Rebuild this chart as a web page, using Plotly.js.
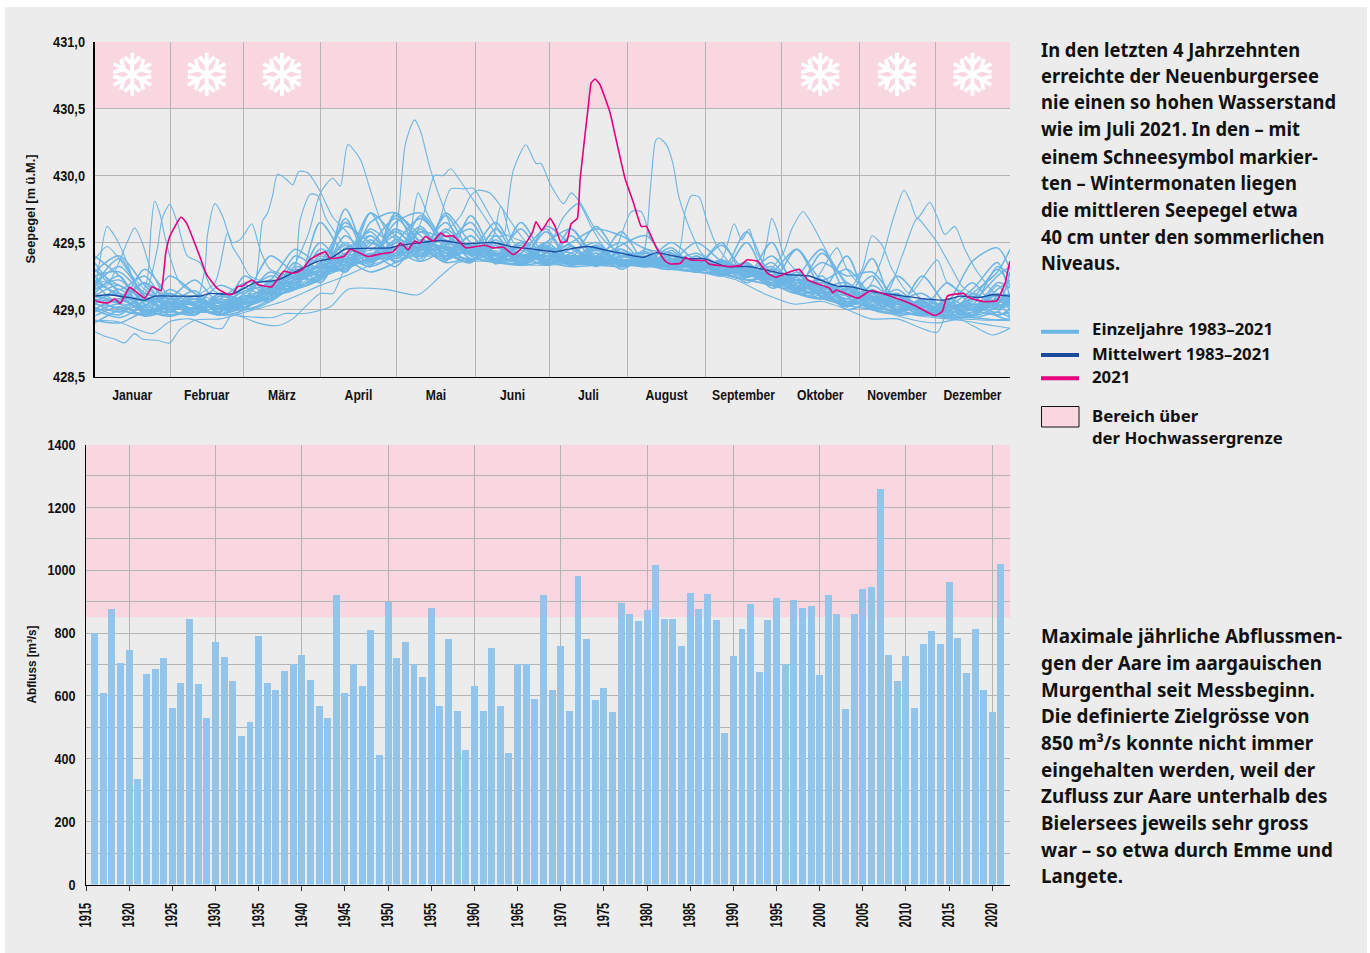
<!DOCTYPE html>
<html><head><meta charset="utf-8">
<script src="https://cdn.plot.ly/plotly-3.0.1.min.js"></script>
<style>html,body{margin:0;padding:0;background:#fff}#chart{width:1370px;height:953px}</style>
</head><body><div id="chart"></div>
<script>
// ---- Lake level chart. All levels in cm above 428 m a.s.l. ----
const monthNames = ['Januar','Februar','März','April','Mai','Juni','Juli','August','September','Oktober','November','Dezember'];
const monthEdges = [0,30.1,59.4,90.1,120.4,151.9,181.4,212.5,243.6,273.9,304.8,335.1,365];
const snowMonths = [0,1,2,9,10,11];

const meanDays = [0,6,15,20,24,32,42,46,55,64,73,82,89,94,100,118,122,138,148,159,166,175,184,190,197,207,219,224,236,243,252,261,269,276,285,296,301,311,319,331,339,345,353,358,365];
const meanCm = [110,111,108.5,107,110,110,110,112,111.5,120,122,130,136,138,145,146,148,151.5,149,150,147,145,143,145.5,147,143,139,142.5,138,138,132,132,129,126,125,117.5,117,113,111,108,107,110,109,111,110];

const y2021Days = [0,2,5.7,8,10.2,14,20,23,26.5,28.4,30,34.5,36.7,42,44.7,48.8,53.4,55.4,57,58.8,62.7,65.4,70.7,75.4,79.4,82.7,86,92,94,99.4,102,109,114,119,122,125,127.6,129.6,131.9,135,138,140,143,148,155.6,159,163,167,171,174.6,176,178.3,181.6,183.6,186,188.3,190,192.5,193.6,197,198,199.6,201.6,205.6,208,211.5,215,218,220,224,227.6,229.6,233.6,235.6,237.6,243.6,245,253.7,257.7,260,264.4,268.4,271.7,277,281,284.4,293,294.4,295.7,304.4,308.4,310.4,321.7,327,335,338,340,346.4,348.4,354.4,359.7,363,364.6,365];
const y2021Cm = [107,105.5,105,108,104.5,116.5,108.5,117,114,142,154.5,169,164.5,139.5,126,116,111,112,117,117.5,122,118.5,117,128.5,127,129.5,137.5,143,138,139.5,145,139.5,141.5,143,149.5,144.5,151,149.5,154.5,151,157,154.5,155,146,148,146,146.5,141,147,157.5,165.5,159,168,162,150,151,164,168,197,254,269,272,267.5,246.5,226.5,198,179,162,162,146,136,134,134.5,139,137,136.5,134,132,133,137,136,127,124,128,130,122,116,112.5,114.5,108.5,113,114,107,103,95.5,98.5,110,112,109,106,106.5,119.5,133,136];

// Years with distinct high-water episodes (day of year, level)
const flood01Days = [0,2,5,8,11.5,15,20,30,45,60,75,90,105,118,120.5,124,127.6,130,134,140,144,150,165,180,195,210,225,240,255,270,285,300,315,330,345,360,365];
const flood01Cm = [112,135,162,155,142,125,110,106,102,107,116,130,140,145,160,224,241.5,233,204,172,155,146,143,138,137,136,135,133,130,124,118,112,107,103,102,103,105];
const flood02Days = [0,5,9,13,16,19,22,25,28,35,45,60,75,85,90,95,98,101,106,109.5,114,118,125,135,150,165,180,195,210,225,240,255,270,285,300,315,330,345,360,365];
const flood02Cm = [115,118,132,150,161,150,132,120,110,106,104,110,120,155,187,198,192,223,212,192,167,155,150,147,144,141,139,140,137,134,132,128,122,116,110,105,102,100,102,104];
const flood03Days = [0,10,18,21,22.5,24,26,28,30,34,40,50,60,75,90,105,120,135,150,158,163,165,167,172,176,178,181.6,187,190,193.6,199,204,210,225,240,255,270,285,300,315,330,345,360,365];
const flood03Cm = [105,108,110,122,160,181,172,155,140,120,112,107,110,120,133,142,147,147,147,155,155,180,204,223,209,209,194,179,187,180,162,150,142,138,135,130,126,120,114,108,105,103,105,107];
const flood04Days = [0,10,20,25,27,30,33,37,42,47,55,65,75,90,105,120,135,150,165,180,195,210,218,221.7,223.7,225,228,230.6,233,237.6,242,250,262,270,285,300,315,330,345,360,365];
const flood04Cm = [110,106,112,145,168,178.5,165,140,135,115,108,110,118,132,140,144,148,143,140,138,139,137,138,192,226,228,223,209,184,159,142,133,130,125,120,113,106,102,100,102,103];
const flood05Days = [0,10,20,30,40,44,45,48,51,55,58,62,70,80,90,105,120,135,150,165,180,195,210,225,240,255,268,274.6,278,282.5,286,290,295,300,315,330,345,360,365];
const flood05Cm = [120,112,106,105,105,130,155,179,170,147,138,125,120,122,130,138,142,144,143,141,140,140,139,137,135,131,128,142,160,173,164,150,133,120,110,105,103,106,108];
const flood06Days = [0,15,30,45,58,64,67,69,71,73,76,79,81.5,85,90,95,101,106,120,135,150,165,180,195,210,225,240,255,270,285,300,308,314,318,322.7,325,328,333,336,339,343,347,352,360,365];
const flood06Cm = [108,103,100,102,105,120,166,172,185,201,198,193,203,202,188,169,157,142,140,142,142,140,137,136,136,134,132,128,122,116,112,115,138,165,189,182,168,180,169,156,162,145,128,110,105];
const flood07Days = [0,15,30,45,60,70,79,82,86,89,92,95,100,110,120,135,150,165,180,195,210,225,240,250,255,258,261,264,270,285,300,315,322,328,332,336,342,346,352,360,365];
const flood07Cm = [110,105,102,100,105,112,122,167,186,185,169,160,148,140,142,145,141,140,138,138,136,136,134,138,164,152,160,142,128,120,112,110,140,168,160,150,130,117,110,106,105];
const flood08Days = [0,10,20,35,50,65,80,95,110,125,131,135.6,139,142,146,152,158,165,180,195,210,225,240,255,265,268,270,272,275,285,300,315,330,345,360,365];
const flood08Cm = [122,118,108,102,100,108,118,130,138,145,170,200,200,205,195.5,179,162,145,138,138,137,135,133,128,130,150,168,160,140,120,112,106,102,103,105,110];
const flood09Days = [0,15,30,45,60,75,90,105,120,135,142,147,151,155,162,172,180,187,193,198,204,215,225,240,255,270,285,296,300,310,325,340,355,365];
const flood09Cm = [104,100,98,98,102,112,125,135,140,155,190,190,190.5,179,158,150,145,169,179,162,145,138,137,133,128,123,117,146,130,110,103,100,100,102];
const flood10Days = [0,8,16,30,45,60,75,90,105,120,135,146,150,153,157.6,162,168,175,190,205,220,232,235.6,238,241,244,248,255,270,285,300,315,330,345,360,365];
const flood10Cm = [130,120,112,105,104,108,116,128,136,140,150,170,185,189,187,177,160,145,140,138,136,138,174,185,184,167,148,132,125,118,112,107,103,102,108,112];
const flood11Days = [0,4,8,12,16,19,25,30,34,40,50,60,75,90,100,110,120,135,150,165,180,195,210,225,240,255,270,285,300,315,330,345,358,365];
const flood11Cm = [83.5,80,78,75,82,78,77,75,85,92,93,98,106,118,125,133,138,140,138,136,135,134,135,133,130,125,118,112,105,100,95,92,88,86];
const flood12Days = [0,9,23,30,38,48,51,55,59.4,71,76,84,94,101,116,129,138,145,155,165,180,195,210,225,240,250,256,268,279,290,300,309.5,320,336,340,350,358,365];
const flood12Cm = [92,91,82,91,93,86,86,97,95,94,97,97,102,115,115,111,125,135,136,134,133,135,134,133,131,125,122,111,104,106,100,93,93,83,97,88,81,86];
const flood13Days = [0,15,30,45,58,65,73,79,90,95,100,110,120,125,129,133,138,145,158,162,167,175,190,205,214,218,222,228,240,255,270,285,300,312,327,336,345,355,365];
const flood13Cm = [100,98,96,98,95,90,88,93,112,112,130,138,138,150,187,170,155,142,150,177,150,142,138,136,173,173,152,140,133,127,122,115,108,100,92,90,93,92,93];
const flood14Days = [0,5,9,15,22,30,40,48,53,55,58,60,62.7,66,70,80,90,105,120,135,150,165,180,195,210,225,240,255,270,285,300,306,310,314,318,325,336,340,350,360,365];
const flood14Cm = [137,147,140,125,112,108,110,120,157,150,152,157,164,145,130,125,132,145,145,147,145,142,140,138,137,137,134,130,125,120,114,130,155,148,130,112,137,120,110,110,112];

// Years that stay in the main band, read every ten days
const bandDays = [0,10,20,30,40,50,60,70,80,90,100,110,120,130,140,150,160,170,180,190,200,210,220,230,240,250,260,270,280,290,300,310,320,330,340,350,360,365];
const band01 = [125,128,110,100,106,101,112,125,120,135,162,150,145,158,142,148,138,146,136,147,135,143,134,140,130,135,126,128,115,120,105,112,100,106,96,104,98,112];
const band02 = [118,132,112,108,98,110,104,112,130,125,132,148,168,150,145,137,150,135,145,134,146,135,143,132,137,129,133,122,124,110,118,102,110,97,104,96,112,105];
const band03 = [100,108,98,112,102,96,110,108,118,140,128,165,172,142,155,140,136,148,134,160,138,132,142,130,140,127,130,125,114,122,106,114,99,105,95,108,96,100];
const band04 = [112,105,120,98,110,100,106,120,125,122,168,135,150,168,148,136,148,133,147,133,144,136,132,142,128,136,124,130,112,108,116,100,108,96,106,95,110,118];
const band05 = [95,102,96,104,96,108,100,106,128,132,130,152,135,148,140,155,134,150,138,135,148,133,145,131,138,126,135,120,126,112,104,115,102,100,94,102,95,92];
const band06 = [130,115,125,102,108,98,118,112,115,145,135,138,160,140,170,145,165,136,148,133,140,145,133,144,129,137,128,118,122,118,108,138,98,108,100,106,125,132];
const band07 = [105,98,106,108,100,112,102,115,122,128,150,133,170,155,138,150,137,144,134,142,150,134,138,136,132,150,122,125,116,112,118,104,110,100,96,98,104,95];
const band08 = [122,110,100,115,104,96,108,128,118,124,140,158,138,150,146,136,152,133,162,148,132,145,134,130,140,128,158,122,112,125,103,110,104,96,102,120,100,108];
const band09 = [90,100,108,96,102,106,100,108,135,120,146,135,152,138,172,150,142,135,146,133,147,132,140,133,128,134,126,140,118,108,112,106,98,107,94,96,106,112];
const band10 = [140,125,106,112,98,103,114,118,122,138,128,172,140,160,140,155,135,165,140,150,160,155,145,142,135,130,134,119,125,145,110,102,112,98,105,136,146,130];
const band11 = [110,118,102,125,112,100,104,110,126,130,165,145,158,145,155,138,146,138,150,136,134,142,133,138,130,137,125,132,115,113,140,100,106,103,98,100,115,122];
const band12 = [98,104,95,100,108,97,102,114,116,126,138,132,142,162,138,144,135,140,133,145,133,137,132,132,134,126,128,118,120,110,104,108,100,96,104,94,98,94];
const band13 = [128,140,118,104,100,108,120,122,145,134,148,140,165,172,150,146,140,160,136,138,162,138,135,140,133,132,124,150,112,116,120,106,115,100,98,112,128,145];
const band14 = [102,96,112,100,96,112,106,108,118,150,132,155,136,144,158,137,142,134,148,134,136,148,155,132,128,128,135,118,130,109,116,100,97,108,100,95,102,108];
const band15 = [115,122,104,98,108,102,100,120,124,122,175,136,147,140,148,165,137,146,135,155,134,135,136,150,136,134,126,126,118,122,102,112,110,99,106,100,120,116];
const band16 = [108,100,96,105,100,98,110,106,120,128,130,142,132,152,142,135,155,133,142,133,142,130,140,131,129,125,132,122,113,108,106,103,98,102,96,98,108,100];
const band17 = [135,112,98,108,122,104,105,116,115,165,140,135,160,148,136,170,140,137,150,160,136,134,132,136,150,136,129,128,145,114,102,118,105,100,120,104,132,125];
const band18 = [120,105,130,110,104,118,112,140,128,132,134,160,145,136,160,142,138,150,133,140,135,158,134,140,134,127,122,124,113,120,112,100,125,107,99,108,100,110];
const band19 = [104,115,100,96,100,96,104,110,132,126,142,132,172,150,137,146,135,142,160,135,145,132,137,134,131,133,120,130,122,110,115,108,96,98,102,96,118,104];
const band20 = [118,138,108,100,106,100,116,108,124,142,128,150,140,170,145,135,160,134,142,148,133,140,142,133,136,126,150,118,128,112,108,125,100,104,94,112,104,128];
const band21 = [100,94,103,112,98,105,100,122,116,124,155,138,150,142,150,160,136,148,135,137,148,133,136,146,130,137,124,135,116,142,118,100,104,96,108,100,96,98];
const band22 = [112,125,96,104,114,98,125,112,140,130,136,172,155,146,165,140,148,136,158,134,140,150,133,135,142,130,130,120,145,122,130,110,100,125,104,115,135,108];
const band23 = [92,90,98,95,100,103,102,110,115,122,136,128,135,145,135,138,135,133,135,132,133,132,134,130,128,126,122,118,112,108,103,100,97,96,94,94,92,92];
const band24 = [125,110,120,106,96,110,108,114,120,135,145,155,140,158,152,142,150,140,146,142,134,140,138,134,132,148,127,126,120,135,125,128,108,112,100,108,130,118];
const band25 = [106,112,100,102,110,96,100,118,128,128,130,140,155,136,145,148,137,134,140,133,142,137,132,137,135,127,132,116,122,115,100,106,112,100,94,98,112,102];

// ---- Discharge chart ----
const dischargeYears = [1916,1917,1918,1919,1920,1921,1922,1923,1924,1925,1926,1927,1928,1929,1930,1931,1932,1933,1934,1935,1936,1937,1938,1939,1940,1941,1942,1943,1944,1945,1946,1947,1948,1949,1950,1951,1952,1953,1954,1955,1956,1957,1958,1959,1960,1961,1962,1963,1964,1965,1966,1967,1968,1969,1970,1971,1972,1973,1974,1975,1976,1977,1978,1979,1980,1981,1982,1983,1984,1985,1986,1987,1988,1989,1990,1991,1992,1993,1994,1995,1996,1997,1998,1999,2000,2001,2002,2003,2004,2005,2006,2007,2008,2009,2010,2011,2012,2013,2014,2015,2016,2017,2018,2019,2020,2021];
const dischargeValues = [800,609,877,705,746,335,670,686,721,562,641,845,638,530,772,724,648,472,517,791,641,619,679,702,730,651,568,530,921,609,702,632,810,412,899,721,772,702,660,880,568,781,552,428,632,552,753,568,418,702,702,590,921,619,759,552,982,781,587,625,549,896,861,839,874,1017,845,845,759,928,877,925,842,482,727,813,893,676,842,912,702,906,880,886,667,921,861,558,861,941,947,1260,730,648,727,562,765,807,765,963,784,673,813,619,549,1020];
const floodLimitDischarge = 850;
const floodLimitLevel = 430.5;

// ---- Texts ----
const textTop = ['In den letzten 4 Jahrzehnten','erreichte der Neuenburgersee','nie einen so hohen Wasserstand','wie im Juli 2021. In den – mit','einem Schneesymbol markier-','ten – Wintermonaten liegen','die mittleren Seepegel etwa','40 cm unter den sommerlichen','Niveaus.'];
const textBottom = ['Maximale jährliche Abflussmen-','gen der Aare im aargauischen','Murgenthal seit Messbeginn.','Die definierte Zielgrösse von','850 m³/s konnte nicht immer','eingehalten werden, weil der','Zufluss zur Aare unterhalb des','Bielersees jeweils sehr gross','war – so etwa durch Emme und','Langete.'];
const legendLabels = ['Einzeljahre 1983–2021','Mittelwert 1983–2021','2021','Bereich über','der Hochwassergrenze'];

// ---- Styling ----
const W = 1370, H = 953;
const PX = x => x / W, PY = y => 1 - y / H;
const COL = {card:'#ececec', grid:'#b4b4b4', pink:'#f9d7e1', light:'#6cb5e4', dark:'#1b4a9e', mag:'#e6007e', bar:'#93c5eb', ink:'#111111'};
const bodyFont = '"Noto Sans", Lato, sans-serif';
const tickFont = '"Liberation Sans", sans-serif';
const toLevel = a => a.map(v => 428 + v / 100);

const floodSeries = [[flood01Days,flood01Cm],[flood02Days,flood02Cm],[flood03Days,flood03Cm],[flood04Days,flood04Cm],[flood05Days,flood05Cm],
  [flood06Days,flood06Cm],[flood07Days,flood07Cm],[flood08Days,flood08Cm],[flood09Days,flood09Cm],[flood10Days,flood10Cm],
  [flood11Days,flood11Cm],[flood12Days,flood12Cm],[flood13Days,flood13Cm],[flood14Days,flood14Cm]];
const bandSeries = [band01,band02,band03,band04,band05,band06,band07,band08,band09,band10,band11,band12,band13,band14,band15,band16,band17,band18,band19,band20,band21,band22,band23,band24,band25];

const traces = [
  ...floodSeries.map(s => ({type:'scatter', mode:'lines', x:s[0], y:toLevel(s[1]), xaxis:'x', yaxis:'y', showlegend:false, hoverinfo:'skip',
    line:{color:COL.light, width:1.1, shape:'spline', smoothing:0.7}})),
  ...bandSeries.map(b => ({type:'scatter', mode:'lines', x:bandDays, y:toLevel(b), xaxis:'x', yaxis:'y', showlegend:false, hoverinfo:'skip',
    line:{color:COL.light, width:1.5, shape:'spline', smoothing:0.8}}))
];
traces.push({type:'scatter', mode:'lines', name:'Mittelwert 1983–2021', x:meanDays, y:toLevel(meanCm), xaxis:'x', yaxis:'y', showlegend:false,
  line:{color:COL.dark, width:1.3, shape:'spline', smoothing:0.4}});
traces.push({type:'scatter', mode:'lines', name:'2021', x:y2021Days, y:toLevel(y2021Cm), xaxis:'x', yaxis:'y', showlegend:false,
  line:{color:COL.mag, width:1.6, shape:'spline', smoothing:0.4}});
traces.push({type:'bar', x:dischargeYears, y:dischargeValues, xaxis:'x2', yaxis:'y2', width:0.81, showlegend:false,
  marker:{color:COL.bar, line:{width:0}}});

const monthMids = monthNames.map((_, i) => (monthEdges[i] + monthEdges[i + 1]) / 2);

// snowflake icon
const armSvg = '<g><line x1="0" y1="0" x2="0" y2="-21"/><line x1="0" y1="-9.5" x2="-7.5" y2="-17"/><line x1="0" y1="-9.5" x2="7.5" y2="-17"/></g>';
const flakeArms = [0,60,120,180,240,300].map(a => armSvg.replace('<g>', `<g transform="rotate(${a})">`)).join('');
const flakeSvg = `<svg xmlns="http://www.w3.org/2000/svg" width="176" height="176" viewBox="-22 -22 44 44"><g stroke="#ffffff" stroke-width="3.8" fill="none">${flakeArms}</g></svg>`;
const flakeUri = 'data:image/svg+xml;base64,' + btoa(flakeSvg);

const images = snowMonths.map(m => ({source:flakeUri, xref:'x', yref:'y', x:monthMids[m], y:430.755,
  sizex:45/2.508, sizey:45/134, xanchor:'center', yanchor:'middle', sizing:'stretch', layer:'above'}));

const shapes = [
  {type:'rect', xref:'paper', yref:'paper', x0:PX(5), x1:PX(1367), y0:PY(953), y1:PY(7), fillcolor:COL.card, line:{width:0}, layer:'below'},
  {type:'rect', xref:'x', yref:'y', x0:0, x1:365, y0:floodLimitLevel, y1:431, fillcolor:COL.pink, line:{width:0}, layer:'below'},
  {type:'rect', xref:'x2', yref:'y2', x0:1915, x1:2022.05, y0:floodLimitDischarge, y1:1400, fillcolor:COL.pink, line:{width:0}, layer:'below'},
  {type:'line', xref:'paper', yref:'paper', x0:PX(1041), x1:PX(1079), y0:PY(331.7), y1:PY(331.7), line:{color:COL.light, width:4}},
  {type:'line', xref:'paper', yref:'paper', x0:PX(1041), x1:PX(1079), y0:PY(355), y1:PY(355), line:{color:COL.dark, width:4}},
  {type:'line', xref:'paper', yref:'paper', x0:PX(1041), x1:PX(1079), y0:PY(378.3), y1:PY(378.3), line:{color:COL.mag, width:4}},
  {type:'rect', xref:'paper', yref:'paper', x0:PX(1041.5), x1:PX(1079), y0:PY(427), y1:PY(406.5), fillcolor:COL.pink, line:{color:'#111111', width:1}}
];

const textLine = (t, x, y, size) => ({text:t, xref:'paper', yref:'paper', x:PX(x), y:PY(y), xanchor:'left', yanchor:'middle', showarrow:false, align:'left',
  font:{family:bodyFont, size:size, color:COL.ink, weight:700}});
const topY = [49,75.5,102,129,156,182,209,236,262];
const botY = [635,662,689,715,742,769,795,822,849,875];
const legY = [329,353,376,415,438];
const annotations = [
  ...textTop.map((t,i) => textLine(t, 1039, topY[i], 19.5)),
  ...textBottom.map((t,i) => textLine(t, 1039, botY[i], 19.5)),
  ...legendLabels.map((t,i) => textLine(t, 1090, legY[i], 16.5))
];

const tickF = {family:tickFont, size:15, color:COL.ink, weight:700};
const decades = []; for (let y = 1920; y <= 2020; y += 10) decades.push(y);

const layout = {
  width:W, height:H, margin:{l:0,r:0,t:0,b:0}, paper_bgcolor:'#ffffff', plot_bgcolor:'rgba(0,0,0,0)', separators:',.', showlegend:false,
  bargap:0, shapes, annotations, images,
  xaxis:{domain:[PX(94.5),PX(1010)], range:[0,365], tickmode:'array', tickvals:monthMids, ticktext:monthNames, ticks:'', ticklen:0,
    showgrid:false, zeroline:false, showline:true, linecolor:'#000000', linewidth:1.5, tickfont:{family:tickFont,size:14.5,color:COL.ink,weight:700}, ticklabelstandoff:5,
    minor:{tickmode:'array', tickvals:monthEdges, showgrid:true, gridcolor:COL.grid, gridwidth:1, ticks:''}, anchor:'y', fixedrange:true},
  yaxis:{domain:[PY(376.5),PY(41.5)], range:[428.5,431], tickmode:'array', tickvals:[428.5,429,429.5,430,430.5,431], tickformat:'.1f', ticks:'', showgrid:true,
    gridcolor:COL.grid, gridwidth:1, zeroline:false, showline:true, linecolor:'#000000', linewidth:1.5, tickfont:tickF, ticklabelstandoff:5, anchor:'x', fixedrange:true,
    title:{text:'Seepegel [m ü.M.]', font:{family:tickFont,size:13.5,color:COL.ink,weight:700}, standoff:8}},
  xaxis2:{domain:[PX(86),PX(1010)], range:[1915,2022.05], tickmode:'linear', tick0:1915, dtick:5, ticks:'outside', ticklen:5, tickwidth:1, tickcolor:'#333333',
    tickangle:-90, showgrid:false, zeroline:false, showline:true, linecolor:'#000000', linewidth:1.5, tickfont:{family:tickFont,size:17,color:COL.ink,weight:700}, ticklabelstandoff:5, anchor:'y2', fixedrange:true,
    minor:{tickmode:'array', tickvals:decades, showgrid:true, gridcolor:COL.grid, gridwidth:1, ticks:''}},
  yaxis2:{domain:[PY(884.5),PY(444.5)], range:[0,1400], tickmode:'linear', tick0:0, dtick:200, ticks:'', showgrid:true, gridcolor:COL.grid, gridwidth:1,
    zeroline:false, showline:true, linecolor:'#000000', linewidth:1.5, tickfont:tickF, ticklabelstandoff:6, anchor:'x2', fixedrange:true,
    minor:{dtick:100, showgrid:true, gridcolor:COL.grid, gridwidth:1, ticks:''},
    title:{text:'Abfluss [m³/s]', font:{family:tickFont,size:13.5,color:COL.ink,weight:700}, standoff:2}}
};

// The reference type is a condensed face; narrow the real text elements to its widths.
function squeeze(el, factor, keepLeft) {
  const w = el.getComputedTextLength();
  const before = el.getBoundingClientRect().left;
  el.setAttribute('textLength', (w * factor).toFixed(2));
  el.setAttribute('lengthAdjust', 'spacingAndGlyphs');
  if (keepLeft) {
    const after = el.getBoundingClientRect().left;
    el.setAttribute('x', (parseFloat(el.getAttribute('x') || 0) + before - after).toFixed(2));
  }
}
Plotly.newPlot('chart', traces, layout, {displayModeBar:false, responsive:false, staticPlot:true}).then(gd => {
  const all = sel => Array.from(gd.querySelectorAll(sel));
  all('.xtick text').forEach(e => squeeze(e, 0.84));
  all('.ytick text').forEach(e => squeeze(e, 0.85));
  all('.y2tick text').forEach(e => squeeze(e, 0.84));
  all('.x2tick text').forEach(e => {
    squeeze(e, 0.65);
    e.setAttribute('transform', 'translate(-0.5,0) ' + (e.getAttribute('transform') || ''));
  });
  all('.ytitle').forEach(e => squeeze(e, 0.95));
  all('.y2title').forEach(e => squeeze(e, 0.865));
  const anns = all('.annotation-text');
  const nTop = textTop.length, nBot = textBottom.length;
  const topFactor = 295 / anns[2].getComputedTextLength();        // "nie einen so hohen Wasserstand"
  const botFactor = 301 / anns[nTop].getComputedTextLength();     // "Maximale jährliche Abflussmen-"
  const legFactor = 181 / anns[nTop + nBot].getComputedTextLength(); // "Einzeljahre 1983–2021"
  anns.forEach((e, i) => squeeze(e, i < nTop ? topFactor : i < nTop + nBot ? botFactor : legFactor, true));
});
</script></body></html>
